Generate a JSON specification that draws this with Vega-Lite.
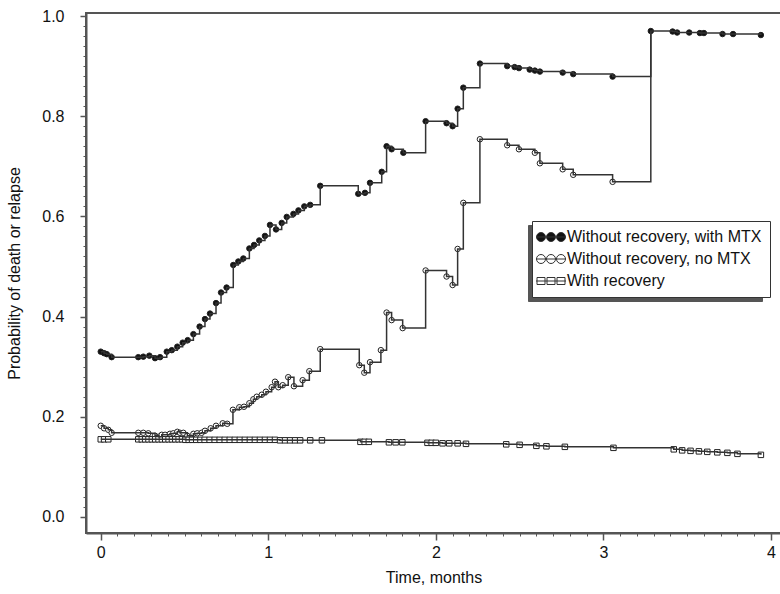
{
  "$schema": "https://vega.github.io/schema/vega-lite/v6.json",
  "width": 695,
  "height": 520,
  "autosize": {"type": "none"},
  "padding": {"left": 86, "top": 13, "right": 0, "bottom": 61},
  "background": "white",
  "config": {
    "view": {"stroke": "#555", "strokeWidth": 2},
    "font": "Liberation Sans",
    "axis": {
      "domainColor": "#555", "domainWidth": 2, "tickColor": "#555", "tickWidth": 1.5,
      "labelFont": "Liberation Sans", "labelFontSize": 16, "labelColor": "#111",
      "titleFont": "Liberation Sans", "titleFontSize": 16, "titleFontWeight": "normal", "titleColor": "#111",
      "grid": false
    },
    "legend": {
      "orient": "none", "title": null, "padding": 8, "cornerRadius": 0,
      "labelFont": "Liberation Sans", "labelFontSize": 16, "labelLimit": 400,
      "symbolSize": 100, "symbolOffset": 3, "labelOffset": 8, "rowPadding": 6, "symbolStrokeWidth": 1
    }
  },
  "datasets": {
    "km": [
      {"series": "Without recovery, with MTX", "t": 0.000, "p": 0.330, "censored": true},
      {"series": "Without recovery, with MTX", "t": 0.020, "p": 0.327, "censored": true},
      {"series": "Without recovery, with MTX", "t": 0.036, "p": 0.325, "censored": true},
      {"series": "Without recovery, with MTX", "t": 0.065, "p": 0.319, "censored": true},
      {"series": "Without recovery, with MTX", "t": 0.224, "p": 0.319, "censored": true},
      {"series": "Without recovery, with MTX", "t": 0.254, "p": 0.320, "censored": true},
      {"series": "Without recovery, with MTX", "t": 0.290, "p": 0.322, "censored": true},
      {"series": "Without recovery, with MTX", "t": 0.324, "p": 0.317, "censored": true},
      {"series": "Without recovery, with MTX", "t": 0.354, "p": 0.319, "censored": true},
      {"series": "Without recovery, with MTX", "t": 0.394, "p": 0.330, "censored": true},
      {"series": "Without recovery, with MTX", "t": 0.424, "p": 0.333, "censored": true},
      {"series": "Without recovery, with MTX", "t": 0.457, "p": 0.340, "censored": true},
      {"series": "Without recovery, with MTX", "t": 0.489, "p": 0.348, "censored": true},
      {"series": "Without recovery, with MTX", "t": 0.519, "p": 0.353, "censored": true},
      {"series": "Without recovery, with MTX", "t": 0.553, "p": 0.365, "censored": true},
      {"series": "Without recovery, with MTX", "t": 0.590, "p": 0.380, "censored": true},
      {"series": "Without recovery, with MTX", "t": 0.622, "p": 0.395, "censored": true},
      {"series": "Without recovery, with MTX", "t": 0.652, "p": 0.406, "censored": true},
      {"series": "Without recovery, with MTX", "t": 0.688, "p": 0.427, "censored": true},
      {"series": "Without recovery, with MTX", "t": 0.718, "p": 0.448, "censored": true},
      {"series": "Without recovery, with MTX", "t": 0.751, "p": 0.458, "censored": true},
      {"series": "Without recovery, with MTX", "t": 0.791, "p": 0.503, "censored": true},
      {"series": "Without recovery, with MTX", "t": 0.821, "p": 0.510, "censored": true},
      {"series": "Without recovery, with MTX", "t": 0.851, "p": 0.516, "censored": true},
      {"series": "Without recovery, with MTX", "t": 0.887, "p": 0.536, "censored": true},
      {"series": "Without recovery, with MTX", "t": 0.915, "p": 0.543, "censored": true},
      {"series": "Without recovery, with MTX", "t": 0.946, "p": 0.552, "censored": true},
      {"series": "Without recovery, with MTX", "t": 0.980, "p": 0.561, "censored": true},
      {"series": "Without recovery, with MTX", "t": 1.010, "p": 0.583, "censored": true},
      {"series": "Without recovery, with MTX", "t": 1.046, "p": 0.574, "censored": true},
      {"series": "Without recovery, with MTX", "t": 1.080, "p": 0.587, "censored": true},
      {"series": "Without recovery, with MTX", "t": 1.110, "p": 0.599, "censored": true},
      {"series": "Without recovery, with MTX", "t": 1.150, "p": 0.605, "censored": true},
      {"series": "Without recovery, with MTX", "t": 1.180, "p": 0.612, "censored": true},
      {"series": "Without recovery, with MTX", "t": 1.215, "p": 0.620, "censored": true},
      {"series": "Without recovery, with MTX", "t": 1.250, "p": 0.623, "censored": true},
      {"series": "Without recovery, with MTX", "t": 1.310, "p": 0.661, "censored": true},
      {"series": "Without recovery, with MTX", "t": 1.537, "p": 0.645, "censored": true},
      {"series": "Without recovery, with MTX", "t": 1.577, "p": 0.647, "censored": true},
      {"series": "Without recovery, with MTX", "t": 1.607, "p": 0.667, "censored": true},
      {"series": "Without recovery, with MTX", "t": 1.677, "p": 0.689, "censored": true},
      {"series": "Without recovery, with MTX", "t": 1.706, "p": 0.740, "censored": true},
      {"series": "Without recovery, with MTX", "t": 1.736, "p": 0.734, "censored": true},
      {"series": "Without recovery, with MTX", "t": 1.806, "p": 0.727, "censored": true},
      {"series": "Without recovery, with MTX", "t": 1.939, "p": 0.790, "censored": true},
      {"series": "Without recovery, with MTX", "t": 2.064, "p": 0.786, "censored": true},
      {"series": "Without recovery, with MTX", "t": 2.100, "p": 0.780, "censored": true},
      {"series": "Without recovery, with MTX", "t": 2.130, "p": 0.815, "censored": true},
      {"series": "Without recovery, with MTX", "t": 2.164, "p": 0.857, "censored": true},
      {"series": "Without recovery, with MTX", "t": 2.263, "p": 0.905, "censored": true},
      {"series": "Without recovery, with MTX", "t": 2.426, "p": 0.900, "censored": true},
      {"series": "Without recovery, with MTX", "t": 2.470, "p": 0.898, "censored": true},
      {"series": "Without recovery, with MTX", "t": 2.496, "p": 0.896, "censored": true},
      {"series": "Without recovery, with MTX", "t": 2.560, "p": 0.893, "censored": true},
      {"series": "Without recovery, with MTX", "t": 2.591, "p": 0.891, "censored": true},
      {"series": "Without recovery, with MTX", "t": 2.621, "p": 0.889, "censored": true},
      {"series": "Without recovery, with MTX", "t": 2.757, "p": 0.887, "censored": true},
      {"series": "Without recovery, with MTX", "t": 2.820, "p": 0.884, "censored": true},
      {"series": "Without recovery, with MTX", "t": 3.055, "p": 0.879, "censored": true},
      {"series": "Without recovery, with MTX", "t": 3.283, "p": 0.970, "censored": true},
      {"series": "Without recovery, with MTX", "t": 3.413, "p": 0.969, "censored": true},
      {"series": "Without recovery, with MTX", "t": 3.440, "p": 0.967, "censored": true},
      {"series": "Without recovery, with MTX", "t": 3.512, "p": 0.967, "censored": true},
      {"series": "Without recovery, with MTX", "t": 3.576, "p": 0.966, "censored": true},
      {"series": "Without recovery, with MTX", "t": 3.600, "p": 0.966, "censored": true},
      {"series": "Without recovery, with MTX", "t": 3.711, "p": 0.964, "censored": true},
      {"series": "Without recovery, with MTX", "t": 3.774, "p": 0.964, "censored": true},
      {"series": "Without recovery, with MTX", "t": 3.940, "p": 0.962, "censored": true},

      {"series": "Without recovery, no MTX", "t": 0.000, "p": 0.182, "censored": true},
      {"series": "Without recovery, no MTX", "t": 0.020, "p": 0.177, "censored": true},
      {"series": "Without recovery, no MTX", "t": 0.045, "p": 0.174, "censored": true},
      {"series": "Without recovery, no MTX", "t": 0.065, "p": 0.168, "censored": true},
      {"series": "Without recovery, no MTX", "t": 0.224, "p": 0.168, "censored": true},
      {"series": "Without recovery, no MTX", "t": 0.254, "p": 0.168, "censored": true},
      {"series": "Without recovery, no MTX", "t": 0.284, "p": 0.167, "censored": true},
      {"series": "Without recovery, no MTX", "t": 0.324, "p": 0.162, "censored": true},
      {"series": "Without recovery, no MTX", "t": 0.344, "p": 0.160, "censored": true},
      {"series": "Without recovery, no MTX", "t": 0.364, "p": 0.164, "censored": true},
      {"series": "Without recovery, no MTX", "t": 0.384, "p": 0.164, "censored": true},
      {"series": "Without recovery, no MTX", "t": 0.413, "p": 0.166, "censored": true},
      {"series": "Without recovery, no MTX", "t": 0.433, "p": 0.167, "censored": true},
      {"series": "Without recovery, no MTX", "t": 0.457, "p": 0.170, "censored": true},
      {"series": "Without recovery, no MTX", "t": 0.473, "p": 0.168, "censored": true},
      {"series": "Without recovery, no MTX", "t": 0.493, "p": 0.168, "censored": true},
      {"series": "Without recovery, no MTX", "t": 0.517, "p": 0.162, "censored": true},
      {"series": "Without recovery, no MTX", "t": 0.553, "p": 0.166, "censored": true},
      {"series": "Without recovery, no MTX", "t": 0.576, "p": 0.167, "censored": true},
      {"series": "Without recovery, no MTX", "t": 0.602, "p": 0.168, "censored": true},
      {"series": "Without recovery, no MTX", "t": 0.622, "p": 0.172, "censored": true},
      {"series": "Without recovery, no MTX", "t": 0.656, "p": 0.177, "censored": true},
      {"series": "Without recovery, no MTX", "t": 0.688, "p": 0.182, "censored": true},
      {"series": "Without recovery, no MTX", "t": 0.728, "p": 0.187, "censored": true},
      {"series": "Without recovery, no MTX", "t": 0.755, "p": 0.186, "censored": true},
      {"series": "Without recovery, no MTX", "t": 0.789, "p": 0.214, "censored": true},
      {"series": "Without recovery, no MTX", "t": 0.827, "p": 0.219, "censored": true},
      {"series": "Without recovery, no MTX", "t": 0.855, "p": 0.220, "censored": true},
      {"series": "Without recovery, no MTX", "t": 0.887, "p": 0.227, "censored": true},
      {"series": "Without recovery, no MTX", "t": 0.911, "p": 0.235, "censored": true},
      {"series": "Without recovery, no MTX", "t": 0.931, "p": 0.240, "censored": true},
      {"series": "Without recovery, no MTX", "t": 0.961, "p": 0.244, "censored": true},
      {"series": "Without recovery, no MTX", "t": 0.986, "p": 0.250, "censored": true},
      {"series": "Without recovery, no MTX", "t": 1.020, "p": 0.259, "censored": true},
      {"series": "Without recovery, no MTX", "t": 1.040, "p": 0.270, "censored": true},
      {"series": "Without recovery, no MTX", "t": 1.060, "p": 0.259, "censored": true},
      {"series": "Without recovery, no MTX", "t": 1.086, "p": 0.263, "censored": true},
      {"series": "Without recovery, no MTX", "t": 1.119, "p": 0.279, "censored": true},
      {"series": "Without recovery, no MTX", "t": 1.153, "p": 0.261, "censored": true},
      {"series": "Without recovery, no MTX", "t": 1.205, "p": 0.273, "censored": true},
      {"series": "Without recovery, no MTX", "t": 1.245, "p": 0.291, "censored": true},
      {"series": "Without recovery, no MTX", "t": 1.310, "p": 0.335, "censored": true},
      {"series": "Without recovery, no MTX", "t": 1.543, "p": 0.303, "censored": true},
      {"series": "Without recovery, no MTX", "t": 1.573, "p": 0.288, "censored": true},
      {"series": "Without recovery, no MTX", "t": 1.607, "p": 0.309, "censored": true},
      {"series": "Without recovery, no MTX", "t": 1.672, "p": 0.333, "censored": true},
      {"series": "Without recovery, no MTX", "t": 1.706, "p": 0.408, "censored": true},
      {"series": "Without recovery, no MTX", "t": 1.736, "p": 0.393, "censored": true},
      {"series": "Without recovery, no MTX", "t": 1.802, "p": 0.377, "censored": true},
      {"series": "Without recovery, no MTX", "t": 1.939, "p": 0.492, "censored": true},
      {"series": "Without recovery, no MTX", "t": 2.064, "p": 0.480, "censored": true},
      {"series": "Without recovery, no MTX", "t": 2.100, "p": 0.463, "censored": true},
      {"series": "Without recovery, no MTX", "t": 2.130, "p": 0.535, "censored": true},
      {"series": "Without recovery, no MTX", "t": 2.164, "p": 0.627, "censored": true},
      {"series": "Without recovery, no MTX", "t": 2.263, "p": 0.754, "censored": true},
      {"series": "Without recovery, no MTX", "t": 2.426, "p": 0.742, "censored": true},
      {"series": "Without recovery, no MTX", "t": 2.496, "p": 0.734, "censored": true},
      {"series": "Without recovery, no MTX", "t": 2.591, "p": 0.727, "censored": true},
      {"series": "Without recovery, no MTX", "t": 2.621, "p": 0.706, "censored": true},
      {"series": "Without recovery, no MTX", "t": 2.757, "p": 0.694, "censored": true},
      {"series": "Without recovery, no MTX", "t": 2.820, "p": 0.683, "censored": true},
      {"series": "Without recovery, no MTX", "t": 3.055, "p": 0.669, "censored": true},
      {"series": "Without recovery, no MTX", "t": 3.283, "p": 0.970, "censored": false},

      {"series": "With recovery", "t": 0.000, "p": 0.155, "censored": true},
      {"series": "With recovery", "t": 0.020, "p": 0.155, "censored": true},
      {"series": "With recovery", "t": 0.045, "p": 0.155, "censored": true},
      {"series": "With recovery", "t": 0.224, "p": 0.155, "censored": true},
      {"series": "With recovery", "t": 0.245, "p": 0.155, "censored": true},
      {"series": "With recovery", "t": 0.265, "p": 0.155, "censored": true},
      {"series": "With recovery", "t": 0.285, "p": 0.155, "censored": true},
      {"series": "With recovery", "t": 0.305, "p": 0.155, "censored": true},
      {"series": "With recovery", "t": 0.325, "p": 0.155, "censored": true},
      {"series": "With recovery", "t": 0.345, "p": 0.155, "censored": true},
      {"series": "With recovery", "t": 0.365, "p": 0.155, "censored": true},
      {"series": "With recovery", "t": 0.385, "p": 0.155, "censored": true},
      {"series": "With recovery", "t": 0.405, "p": 0.155, "censored": true},
      {"series": "With recovery", "t": 0.425, "p": 0.155, "censored": true},
      {"series": "With recovery", "t": 0.445, "p": 0.155, "censored": true},
      {"series": "With recovery", "t": 0.465, "p": 0.155, "censored": true},
      {"series": "With recovery", "t": 0.485, "p": 0.155, "censored": true},
      {"series": "With recovery", "t": 0.505, "p": 0.154, "censored": true},
      {"series": "With recovery", "t": 0.525, "p": 0.154, "censored": true},
      {"series": "With recovery", "t": 0.545, "p": 0.154, "censored": true},
      {"series": "With recovery", "t": 0.570, "p": 0.154, "censored": true},
      {"series": "With recovery", "t": 0.595, "p": 0.154, "censored": true},
      {"series": "With recovery", "t": 0.620, "p": 0.154, "censored": true},
      {"series": "With recovery", "t": 0.650, "p": 0.154, "censored": true},
      {"series": "With recovery", "t": 0.680, "p": 0.154, "censored": true},
      {"series": "With recovery", "t": 0.710, "p": 0.154, "censored": true},
      {"series": "With recovery", "t": 0.740, "p": 0.154, "censored": true},
      {"series": "With recovery", "t": 0.770, "p": 0.154, "censored": true},
      {"series": "With recovery", "t": 0.800, "p": 0.154, "censored": true},
      {"series": "With recovery", "t": 0.830, "p": 0.154, "censored": true},
      {"series": "With recovery", "t": 0.860, "p": 0.154, "censored": true},
      {"series": "With recovery", "t": 0.890, "p": 0.154, "censored": true},
      {"series": "With recovery", "t": 0.920, "p": 0.154, "censored": true},
      {"series": "With recovery", "t": 0.950, "p": 0.154, "censored": true},
      {"series": "With recovery", "t": 0.980, "p": 0.154, "censored": true},
      {"series": "With recovery", "t": 1.010, "p": 0.154, "censored": true},
      {"series": "With recovery", "t": 1.040, "p": 0.154, "censored": true},
      {"series": "With recovery", "t": 1.070, "p": 0.153, "censored": true},
      {"series": "With recovery", "t": 1.100, "p": 0.153, "censored": true},
      {"series": "With recovery", "t": 1.130, "p": 0.153, "censored": true},
      {"series": "With recovery", "t": 1.160, "p": 0.153, "censored": true},
      {"series": "With recovery", "t": 1.190, "p": 0.153, "censored": true},
      {"series": "With recovery", "t": 1.250, "p": 0.153, "censored": true},
      {"series": "With recovery", "t": 1.320, "p": 0.153, "censored": true},
      {"series": "With recovery", "t": 1.550, "p": 0.150, "censored": true},
      {"series": "With recovery", "t": 1.575, "p": 0.150, "censored": true},
      {"series": "With recovery", "t": 1.600, "p": 0.150, "censored": true},
      {"series": "With recovery", "t": 1.720, "p": 0.149, "censored": true},
      {"series": "With recovery", "t": 1.760, "p": 0.149, "censored": true},
      {"series": "With recovery", "t": 1.800, "p": 0.149, "censored": true},
      {"series": "With recovery", "t": 1.950, "p": 0.148, "censored": true},
      {"series": "With recovery", "t": 1.975, "p": 0.148, "censored": true},
      {"series": "With recovery", "t": 2.000, "p": 0.148, "censored": true},
      {"series": "With recovery", "t": 2.040, "p": 0.147, "censored": true},
      {"series": "With recovery", "t": 2.080, "p": 0.147, "censored": true},
      {"series": "With recovery", "t": 2.130, "p": 0.147, "censored": true},
      {"series": "With recovery", "t": 2.180, "p": 0.146, "censored": true},
      {"series": "With recovery", "t": 2.420, "p": 0.145, "censored": true},
      {"series": "With recovery", "t": 2.500, "p": 0.144, "censored": true},
      {"series": "With recovery", "t": 2.600, "p": 0.142, "censored": true},
      {"series": "With recovery", "t": 2.660, "p": 0.141, "censored": true},
      {"series": "With recovery", "t": 2.770, "p": 0.140, "censored": true},
      {"series": "With recovery", "t": 3.060, "p": 0.138, "censored": true},
      {"series": "With recovery", "t": 3.420, "p": 0.135, "censored": true},
      {"series": "With recovery", "t": 3.470, "p": 0.133, "censored": true},
      {"series": "With recovery", "t": 3.520, "p": 0.132, "censored": true},
      {"series": "With recovery", "t": 3.570, "p": 0.131, "censored": true},
      {"series": "With recovery", "t": 3.620, "p": 0.130, "censored": true},
      {"series": "With recovery", "t": 3.680, "p": 0.129, "censored": true},
      {"series": "With recovery", "t": 3.740, "p": 0.128, "censored": true},
      {"series": "With recovery", "t": 3.800, "p": 0.126, "censored": true},
      {"series": "With recovery", "t": 3.940, "p": 0.124, "censored": true}
    ]
  },
  "data": {"name": "km"},
  "resolve": {
    "axis": {"x": "independent", "y": "independent"},
    "scale": {"shape": "independent", "fill": "independent"},
    "legend": {"shape": "independent", "fill": "independent"}
  },
  "layer": [
    {
      "transform": [{"filter": "false"}],
      "mark": {"type": "point", "filled": true, "stroke": "#444", "strokeWidth": 1, "opacity": 1},
      "encoding": {
        "shape": {"field": "series", "type": "nominal",
          "scale": {"domain": ["Without recovery, with MTX", "Without recovery, no MTX", "With recovery"], "range": ["square", "square", "square"]},
          "legend": {"legendX": 442, "legendY": 212, "fillColor": "#555", "strokeColor": "#555", "labelExpr": "''", "symbolSize": 225, "labelOffset": 199, "symbolOpacity": 0}}
      }
    },
    {
      "transform": [{"filter": "false"}],
      "mark": {"type": "point", "filled": true, "stroke": "#333", "strokeWidth": 1, "opacity": 1},
      "encoding": {
        "shape": {"field": "series", "type": "nominal",
          "scale": {"domain": ["Without recovery, with MTX", "Without recovery, no MTX", "With recovery"],
            "range": [
              "M-2.9,0a0.9,0.9 0 1,0 1.8,0a0.9,0.9 0 1,0 -1.8,0M-0.9,0a0.9,0.9 0 1,0 1.8,0a0.9,0.9 0 1,0 -1.8,0M1.1,0a0.9,0.9 0 1,0 1.8,0a0.9,0.9 0 1,0 -1.8,0M-3,0H3",
              "M-2.9,0a0.9,0.9 0 1,0 1.8,0a0.9,0.9 0 1,0 -1.8,0M-0.9,0a0.9,0.9 0 1,0 1.8,0a0.9,0.9 0 1,0 -1.8,0M1.1,0a0.9,0.9 0 1,0 1.8,0a0.9,0.9 0 1,0 -1.8,0M-3,0H3",
              "M-2.8,-0.7h1.6v1.4h-1.6zM-0.8,-0.7h1.6v1.4h-1.6zM1.2,-0.7h1.6v1.4h-1.6zM-3,0H3"
            ]},
          "legend": {"legendX": 446, "legendY": 208, "fillColor": "white", "strokeColor": "#333", "labelColor": "#111", "symbolOpacity": 1}},
        "fill": {"field": "series", "type": "nominal",
          "scale": {"domain": ["Without recovery, with MTX", "Without recovery, no MTX", "With recovery"], "range": ["#111", "#fff", "#fff"]},
          "legend": null}
      }
    },
    {
      "transform": [{"filter": "datum.censored"}],
      "mark": {"type": "point", "filled": true, "strokeWidth": 1, "stroke": "#222", "opacity": 1},
      "encoding": {
        "x": {"field": "t", "type": "quantitative", "scale": {"domain": [-0.088, 4.06], "nice": false, "zero": false},
          "axis": {"orient": "bottom", "values": [0.1,0.2,0.3,0.4,0.5,0.6,0.7,0.8,0.9,1.1,1.2,1.3,1.4,1.5,1.6,1.7,1.8,1.9,2.1,2.2,2.3,2.4,2.5,2.6,2.7,2.8,2.9,3.1,3.2,3.3,3.4,3.5,3.6,3.7,3.8,3.9], "labels": false, "domain": false, "tickSize": 3, "tickWidth": 1, "title": null}},
        "y": {"field": "p", "type": "quantitative", "scale": {"domain": [-0.032, 1.006], "nice": false, "zero": false},
          "axis": {"orient": "left", "values": [0.02,0.04,0.06,0.08,0.1,0.12,0.14,0.16,0.18,0.22,0.24,0.26,0.28,0.3,0.32,0.34,0.36,0.38,0.42,0.44,0.46,0.48,0.5,0.52,0.54,0.56,0.58,0.62,0.64,0.66,0.68,0.7,0.72,0.74,0.76,0.78,0.82,0.84,0.86,0.88,0.9,0.92,0.94,0.96,0.98], "labels": false, "domain": false, "tickSize": 3, "tickWidth": 1, "title": null}},
        "shape": {"field": "series", "type": "nominal",
          "scale": {"domain": ["Without recovery, with MTX", "Without recovery, no MTX", "With recovery"], "range": ["circle", "circle", "square"]},
          "legend": null},
        "fill": {"field": "series", "type": "nominal",
          "scale": {"domain": ["Without recovery, with MTX", "Without recovery, no MTX", "With recovery"], "range": ["#111", "#fff", "#fff"]},
          "legend": null},
        "size": {"value": 30}
      }
    },
    {
      "mark": {"type": "line", "interpolate": "step-after", "stroke": "#333", "strokeWidth": 1.5},
      "encoding": {
        "x": {"field": "t", "type": "quantitative", "scale": {"domain": [-0.088, 4.06], "nice": false, "zero": false},
          "axis": {"orient": "bottom", "values": [0, 1, 2, 3, 4], "format": "d", "tickSize": 7, "labelPadding": 4, "title": "Time, months", "titlePadding": 9}},
        "y": {"field": "p", "type": "quantitative", "scale": {"domain": [-0.032, 1.006], "nice": false, "zero": false},
          "axis": {"orient": "left", "values": [0, 0.2, 0.4, 0.6, 0.8, 1.0], "format": ".1f", "tickSize": 6, "labelPadding": 16, "title": "Probability of death or relapse", "titlePadding": 19}},
        "detail": {"field": "series", "type": "nominal"}
      }
    }
  ]
}
